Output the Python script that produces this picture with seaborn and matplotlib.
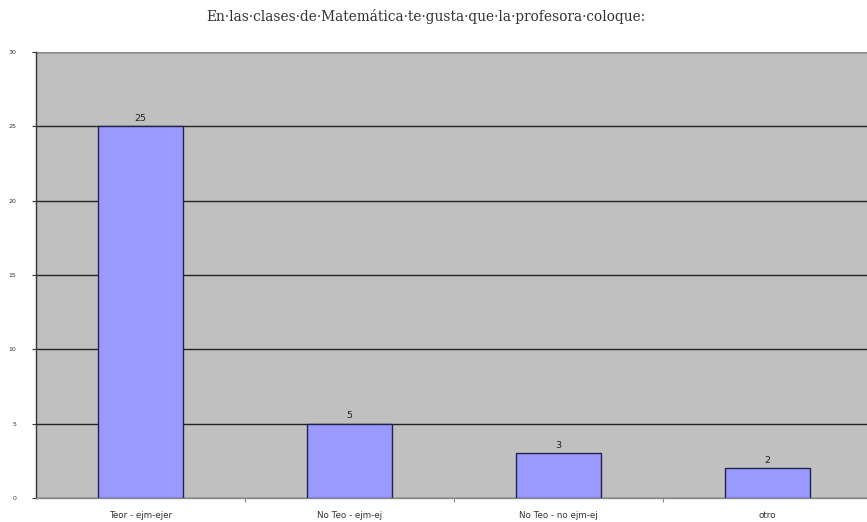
import matplotlib
matplotlib.use("Agg")
import matplotlib.pyplot as plt
import seaborn as sns
import pandas as pd

title = "En·las·clases·de·Matemática·te·gusta·que·la·profesora·coloque:"
categories = ["Teor - ejm-ejer", "No Teo - ejm-ej", "No Teo - no ejm-ej", "otro"]
values = [25, 5, 3, 2]
y_ticks = [0, 5, 10, 15, 20, 25, 30]

df = pd.DataFrame({"cat": categories, "val": values})

sns.set_style("white")
fig = plt.figure(figsize=(8.67, 5.22), dpi=100)
ax = fig.add_axes([36 / 867, 1 - 498 / 522, 836 / 867, (498 - 52) / 522])
ax.set_facecolor("#C0C0C0")

sns.barplot(data=df, x="cat", y="val", ax=ax, color="#9999FF",
            edgecolor="#22224A", linewidth=1.0, width=0.41, saturation=1, zorder=3)

ax.set_ylim(0, 30)
ax.set_xlim(-0.5, 3.5)
ax.set_yticks(y_ticks)
ax.set_yticklabels([str(t) for t in y_ticks], fontsize=4.5, color="#333333")
ax.yaxis.grid(True, color="#222222", linewidth=1.0, zorder=0)
ax.set_axisbelow(True)
ax.tick_params(axis="y", length=3, width=0.8, color="#333333", pad=11, left=True)
ax.tick_params(axis="x", which="major", length=0, labelsize=6.3,
               labelcolor="#333333", pad=9, bottom=False)
ax.set_xticks([0.5, 1.5, 2.5], minor=True)
ax.tick_params(axis="x", which="minor", length=3, width=0.8, color="#888888",
               bottom=True, direction="out")
ax.set_xlabel("")
ax.set_ylabel("")

for s in ["top", "right"]:
    ax.spines[s].set_visible(False)
ax.spines["left"].set_color("#333333")
ax.spines["left"].set_linewidth(1.0)
ax.spines["bottom"].set_color("#888888")
ax.spines["bottom"].set_linewidth(1.0)
ax.axhline(30, color="#888888", linewidth=1.0, zorder=1)

for i, v in enumerate(values):
    ax.text(i, v + 0.25, str(v), ha="center", va="bottom", fontsize=6.8, color="#222222")

fig.text(426 / 867, 1 - 16 / 522, title, ha="center", va="center",
         fontsize=9.9, family="DejaVu Serif", color="#333333")

fig.savefig("out.png", dpi=100, facecolor="white")
